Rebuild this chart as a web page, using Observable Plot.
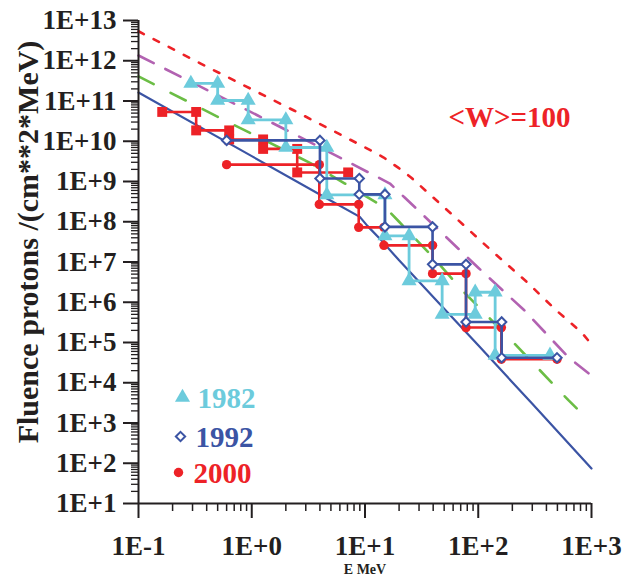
<!DOCTYPE html>
<html>
<head>
<meta charset="utf-8">
<script src="https://cdn.jsdelivr.net/npm/d3@7"></script>
<script src="https://cdn.jsdelivr.net/npm/@observablehq/plot@0.6"></script>
<style>
  html, body { margin: 0; padding: 0; background: #fff; }
  #chart svg text { font-weight: bold; }
</style>
</head>
<body>
<div id="chart"></div>
<script>
// ---- tick labels ----
const xTicks = [0.1, 1, 10, 100, 1000];
const xTickLabels = ["1E-1", "1E+0", "1E+1", "1E+2", "1E+3"];
const yTicks = [1e1, 1e2, 1e3, 1e4, 1e5, 1e6, 1e7, 1e8, 1e9, 1e10, 1e11, 1e12, 1e13];
const yTickLabels = ["1E+1", "1E+2", "1E+3", "1E+4", "1E+5", "1E+6", "1E+7", "1E+8", "1E+9", "1E+10", "1E+11", "1E+12", "1E+13"];

// ---- measured spectra (bin edges in MeV, fluence per bin) ----
const years = ["1982", "1992", "2000"];
const e1982 = [0.29, 0.5, 0.93, 2.0, 4.6, 15, 24.5, 48, 94, 141, 430];
const f1982 = [2.73e11, 1.03e11, 3.39e10, 7.0e9, 4.66e8, 4.47e7, 3.41e6, 5.0e5, 1.77e6, 4.8e4];
const e1992 = [0.6, 4.0, 8.9, 15, 39.5, 78, 161, 496];
const f1992 = [1.05e10, 1.19e9, 4.79e8, 7.47e7, 8.75e6, 3.24e5, 4.18e4];
const e2000 = [0.6, 3.95, 8.8, 14.7, 39.5, 78, 160, 496];
const f2000 = [2.62e9, 2.70e8, 7.26e7, 2.59e7, 5.14e6, 2.35e5, 3.84e4];
const e2000low = [0.162, 0.323, 0.632, 1.26, 2.52, 7.1];
const f2000low = [5.35e10, 1.86e10, 1.11e10, 6.45e9, 1.68e9];

// ---- model curves ----
const modelSolidE = [0.1, 1, 5, 9, 10.5, 14, 20, 50, 100, 300, 1000];
const modelSolidF = [1.62e11, 4.27e9, 3.31e8, 1.32e8, 7.9e7, 3.4e7, 1.1e7, 6.9e5, 8.5e4, 3.0e3, 74];
const modelGreenE = [0.1, 0.532, 3.33, 6.65, 12.6, 15.8, 20, 39.9, 71.9, 208, 625, 794];
const modelGreenF = [4.07e11, 3.72e10, 2.82e9, 8.9e8, 3.0e8, 2.0e8, 1.0e8, 1.32e7, 2.0e6, 9.5e4, 3.7e3, 1.9e3];
const modelPurpleE = [0.1, 1.13, 3.98, 16.6, 22.4, 40.7, 100, 255, 625, 1000];
const modelPurpleF = [1.35e12, 4.37e10, 7.1e9, 8.9e8, 4.0e8, 8.1e7, 7.2e6, 6.3e5, 4.3e4, 1.5e4];
const modelRedE = [0.1, 0.354, 2.36, 10.8, 14.5, 19.5, 25.5, 57.7, 130, 277, 471, 817, 1000];
const modelRedF = [5.4e12, 8.5e11, 5.8e10, 6.3e9, 4.0e9, 2.24e9, 1.26e9, 1.58e8, 1.95e7, 2.95e6, 6.9e5, 1.78e5, 9.0e4];

const annotation = "<W>=100";
const xLabel = "E MeV";
const yLabel = "Fluence protons /(cm**2*MeV)";

// ---- colours ----
const cCyan = "#6ccbdc", cNavy = "#3b54a4", cRed = "#ed2227", cGreen = "#6bbd45", cPurple = "#b262b1", cAxis = "#231f20";

function steps(edges, values) {
  const pts = [];
  values.forEach((v, i) => { pts.push({x: edges[i], y: v}); pts.push({x: edges[i + 1], y: v}); });
  return pts;
}
function curve(E, F) { return E.map((e, i) => ({x: e, y: F[i]})); }

const minorX = [], minorY = [];
for (let k = -1; k <= 2; k++) for (let m = 2; m <= 9; m++) minorX.push(+(m * 10 ** k).toPrecision(3));
for (let k = 1; k <= 12; k++) for (let m = 2; m <= 9; m++) minorY.push(m * 10 ** k);

const s1982 = steps(e1982, f1982);
const s1992 = steps(e1992, f1992);
const s2000 = steps(e2000, f2000);
const s2000low = steps(e2000low, f2000low);

const chart = Plot.plot({
  width: 622,
  height: 579,
  marginLeft: 138,
  marginRight: 31,
  marginTop: 20,
  marginBottom: 76,
  style: {fontFamily: "Liberation Serif", background: "#fff"},
  x: {type: "log", domain: [0.1, 1000]},
  y: {type: "log", domain: [10, 1e13]},
  marks: [
    // axes
    Plot.axisX({ticks: minorX, tickSize: 8, tickFormat: () => "", stroke: cAxis, strokeWidth: 1.5, label: null}),
    Plot.axisX({ticks: xTicks, tickSize: 15, tickPadding: 17, tickFormat: d => xTickLabels[xTicks.indexOf(d)],
      fontSize: 27, fontWeight: "bold", fill: cAxis, stroke: cAxis, strokeWidth: 2, label: null}),
    Plot.axisY({ticks: minorY, tickSize: 7, tickFormat: () => "", stroke: cAxis, strokeWidth: 1.3, label: null}),
    Plot.axisY({ticks: yTicks, tickSize: 15, tickPadding: 7, tickFormat: d => yTickLabels[yTicks.indexOf(d)],
      fontSize: 27, fontWeight: "bold", fill: cAxis, stroke: cAxis, strokeWidth: 2, label: null}),

    // model curves
    Plot.line(curve(modelRedE, modelRedF), {x: "x", y: "y", stroke: cRed, strokeWidth: 2.6, strokeDasharray: "6,11"}),
    Plot.line(curve(modelPurpleE, modelPurpleF), {x: "x", y: "y", stroke: cPurple, strokeWidth: 2.6, strokeDasharray: "17,13"}),
    Plot.line(curve(modelGreenE, modelGreenF), {x: "x", y: "y", stroke: cGreen, strokeWidth: 2.6, strokeDasharray: "17,19"}),
    Plot.line(curve(modelSolidE, modelSolidF), {x: "x", y: "y", stroke: cNavy, strokeWidth: 2.2}),

    // 2000 (low energy, squares)
    Plot.line(s2000low, {x: "x", y: "y", stroke: cRed, strokeWidth: 2.6}),
    Plot.dot(s2000low, {x: "x", y: "y", symbol: "square", r: 5.6, fill: cRed}),
    // 2000 (circles)
    Plot.line(s2000, {x: "x", y: "y", stroke: cRed, strokeWidth: 2.6}),
    Plot.dot(s2000, {x: "x", y: "y", symbol: "circle", r: 4.7, fill: cRed}),
    // 1982
    Plot.line(s1982, {x: "x", y: "y", stroke: cCyan, strokeWidth: 2.8}),
    Plot.dot(s1982, {x: "x", y: "y", symbol: "triangle", r: 5.6, fill: cCyan}),
    // 1992
    Plot.line(s1992, {x: "x", y: "y", stroke: cNavy, strokeWidth: 2.6}),
    Plot.dot(s1992, {x: "x", y: "y", symbol: "diamond2", r: 4.2, fill: "#fff", stroke: cNavy, strokeWidth: 2}),

    // axis lines
    Plot.ruleX([0.1], {stroke: cAxis, strokeWidth: 2}),
    Plot.ruleY([10], {stroke: cAxis, strokeWidth: 2}),

    // legend
    Plot.dot([years[0]], {frameAnchor: "bottom-left", dx: 44, dy: -106, symbol: "triangle", r: 5.6, fill: cCyan}),
    Plot.dot([years[1]], {frameAnchor: "bottom-left", dx: 42, dy: -67, symbol: "diamond2", r: 4.2, fill: "#fff", stroke: cNavy, strokeWidth: 2}),
    Plot.dot([years[2]], {frameAnchor: "bottom-left", dx: 40, dy: -31, symbol: "circle", r: 4.7, fill: cRed}),
    Plot.text([years[0]], {frameAnchor: "bottom-left", textAnchor: "start", lineAnchor: "middle", dx: 59, dy: -105, fontSize: 29, fill: cCyan}),
    Plot.text([years[1]], {frameAnchor: "bottom-left", textAnchor: "start", lineAnchor: "middle", dx: 57, dy: -66, fontSize: 29, fill: cNavy}),
    Plot.text([years[2]], {frameAnchor: "bottom-left", textAnchor: "start", lineAnchor: "middle", dx: 55, dy: -30, fontSize: 29, fill: cRed}),

    // annotation
    Plot.text([annotation], {frameAnchor: "top-right", textAnchor: "end", lineAnchor: "middle", dx: -21, dy: 97, fontSize: 29, fill: cRed}),

    // axis titles
    Plot.text([xLabel], {frameAnchor: "bottom", textAnchor: "middle", lineAnchor: "middle", dy: 66, fontSize: 14, fill: cAxis}),
    Plot.text([yLabel], {frameAnchor: "left", textAnchor: "middle", lineAnchor: "middle", rotate: -90, dx: -110, dy: -20, fontSize: 30, fill: cAxis})
  ]
});
document.getElementById("chart").appendChild(chart);
</script>
</body>
</html>
